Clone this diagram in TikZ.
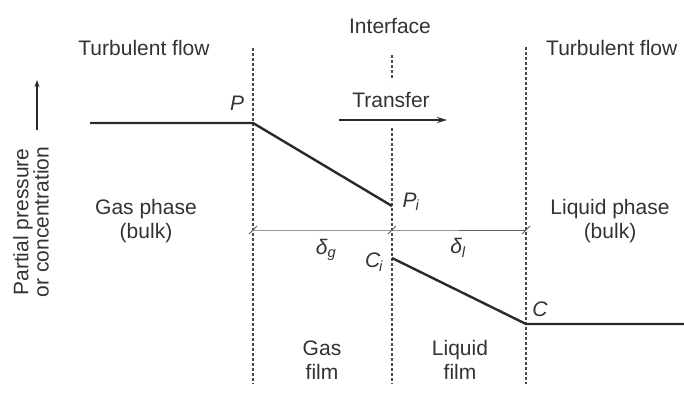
\documentclass[tikz,border=0pt]{standalone}
\usepackage{fontspec}
\setmainfont{Liberation Sans}
\usetikzlibrary{arrows.meta}
\definecolor{ink}{HTML}{2A2A2A}
\definecolor{txt}{HTML}{333333}
\tikzset{
  lbl/.style={text=txt, font=\fontsize{21}{24}\selectfont, inner sep=0pt, align=center},
  sym/.style={text=txt, font=\fontsize{21}{24}\selectfont\itshape, inner sep=0pt},
  curve/.style={draw=ink, line width=2.4pt, line join=round},
  divider/.style={draw=ink!85, line width=1.3pt, dash pattern=on 3pt off 2pt},
  dimline/.style={draw=ink!75, line width=0.9pt},
  tick/.style={draw=ink!75, line width=0.9pt},
  flowarrow/.style={draw=ink, line width=1.6pt, -{Stealth[length=10pt,width=6pt]}}
}
\begin{document}
\begin{tikzpicture}[x=1pt,y=-1pt]
\useasboundingbox[fill=white] (0,0) rectangle (684,400);
% divider lines
\coordinate (Lt) at (253,48); \coordinate (Lb) at (253,384);
\coordinate (It1) at (392,55); \coordinate (It2) at (392,80);
\coordinate (Ib1) at (392,128); \coordinate (Ib) at (392,384);
\coordinate (Rt) at (526,47); \coordinate (Rb) at (526,384);
\draw[divider] (Lt) -- (Lb);
\draw[divider] (It1) -- (It2);
\draw[divider] (Ib1) -- (Ib);
\draw[divider] (Rt) -- (Rb);
% profile
\coordinate (a) at (90,123);
\coordinate (P) at (253,123);
\coordinate (Pi) at (392,206);
\coordinate (Ci) at (392,258);
\coordinate (C) at (526,324);
\coordinate (e) at (684,324);
\draw[curve] (a) -- (P) -- (Pi);
\draw[curve] (Ci) -- (C) -- (e);
% dimension line
\coordinate (d1) at (253,230); \coordinate (d2) at (392,230); \coordinate (d3) at (526,230);
\draw[dimline] (d1) -- (d2) -- (d3);
\foreach \p in {d1,d2,d3}{\draw[tick] ([shift={(-4,4)}]\p) -- ([shift={(4,-4)}]\p);}
% transfer arrow
\coordinate (t1) at (339,120); \coordinate (t2) at (447,120);
\draw[flowarrow] (t1) -- (t2);
% labels
\node[lbl] (tfl) at (144,48) {Turbulent flow};
\node[lbl] (ifc) at (390,26) {Interface};
\node[lbl, anchor=west] (tfr) at (546,48) {Turbulent flow};
\node[lbl] (trn) at (391,100) {Transfer};
\node[sym] (lP) at (237,103) {P};
\node[sym] (lPi) at (411,202) {P\textsubscript{\kern-1pt i}};
\node[sym] (lCi) at (374,262) {C\textsubscript{\kern-1pt i}};
\node[sym] (lC) at (540,309) {C};
\node[sym] (dg) at (326,250) {δ\textsubscript{g}};
\node[sym] (dl) at (458,248) {δ\textsubscript{l}};
\node[lbl] (gp) at (146,221) {Gas phase\\(bulk)};
\node[lbl] (lp) at (610,221) {Liquid phase\\(bulk)};
\node[lbl] (gf) at (322,360) {Gas\\film};
\node[lbl] (lf) at (460,360) {Liquid\\film};
\node[lbl, rotate=90] (ax1) at (23,222) {Partial pressure};
\node[lbl, rotate=90] (ax2) at (41,222) {or concentration};
\coordinate (ya) at (37,130); \coordinate (yb) at (37,80);
\draw[draw=ink, line width=1.4pt, -{Stealth[length=7pt,width=5pt]}] (ya) -- (yb);
\end{tikzpicture}
\end{document}
